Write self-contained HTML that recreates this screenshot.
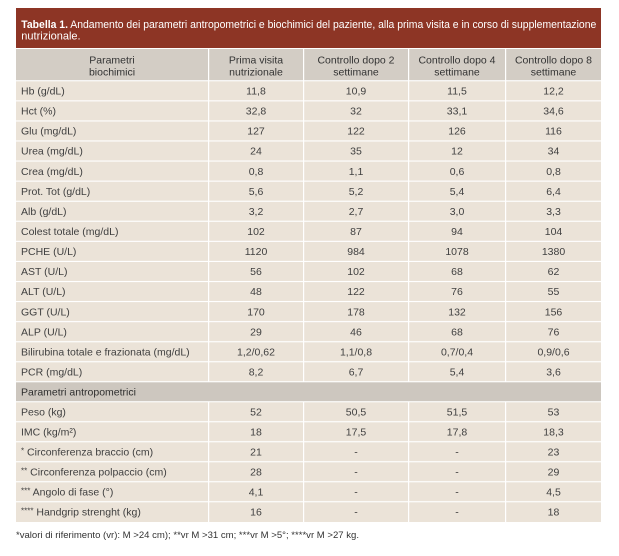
<!DOCTYPE html>
<html><head><meta charset="utf-8"><style>
html,body{margin:0;padding:0;background:#fff;}
svg{display:block;}
text{font-family:"Liberation Sans",Arial,sans-serif;}
.l{font-size:10.5px;fill:#404040;}
.v{font-size:10.5px;fill:#404040;text-anchor:middle;}
.h{font-size:10.5px;fill:#333;text-anchor:middle;}
</style></head><body>
<svg width="619" height="556" viewBox="0 0 619 556" xmlns="http://www.w3.org/2000/svg">
<rect x="0" y="0" width="619" height="556" fill="#fff"/>
<!-- title -->
<rect x="16" y="8" width="585" height="40" fill="#8d3525"/>
<text x="21.3" y="28" font-size="11" fill="#fff" textLength="575" lengthAdjust="spacingAndGlyphs"><tspan font-weight="bold">Tabella 1.</tspan> Andamento dei parametri antropometrici e biochimici del paziente, alla prima visita e in corso di supplementazione</text>
<text x="21.3" y="39.5" font-size="11" fill="#fff">nutrizionale.</text>
<!-- body bg -->
<rect x="16" y="49" width="585" height="473" fill="#ebe3d8"/>
<rect x="16" y="49" width="585" height="31.7" fill="#d3cdc5"/>
<rect x="16" y="381.7" width="585" height="20" fill="#cdc7bf"/>
<!-- horizontal lines -->
<g fill="#fff">
<rect x="16" y="80.2" width="585" height="1.1"/>
<rect x="16" y="100.3" width="585" height="1.1"/>
<rect x="16" y="120.4" width="585" height="1.1"/>
<rect x="16" y="140.4" width="585" height="1.1"/>
<rect x="16" y="160.5" width="585" height="1.1"/>
<rect x="16" y="180.6" width="585" height="1.1"/>
<rect x="16" y="200.7" width="585" height="1.1"/>
<rect x="16" y="220.7" width="585" height="1.1"/>
<rect x="16" y="240.8" width="585" height="1.1"/>
<rect x="16" y="260.9" width="585" height="1.1"/>
<rect x="16" y="281.0" width="585" height="1.1"/>
<rect x="16" y="301.0" width="585" height="1.1"/>
<rect x="16" y="321.1" width="585" height="1.1"/>
<rect x="16" y="341.2" width="585" height="1.1"/>
<rect x="16" y="361.2" width="585" height="1.1"/>
<rect x="16" y="381.2" width="585" height="1.1"/>
<rect x="16" y="401.2" width="585" height="1.1"/>
<rect x="16" y="421.2" width="585" height="1.1"/>
<rect x="16" y="441.2" width="585" height="1.1"/>
<rect x="16" y="461.2" width="585" height="1.1"/>
<rect x="16" y="481.2" width="585" height="1.1"/>
<rect x="16" y="501.2" width="585" height="1.1"/>
<!-- vertical lines -->
<rect x="208" y="49" width="1.2" height="332.7"/>
<rect x="303" y="49" width="1.2" height="332.7"/>
<rect x="408" y="49" width="1.2" height="332.7"/>
<rect x="505" y="49" width="1.2" height="332.7"/>
<rect x="208" y="401.7" width="1.2" height="120.3"/>
<rect x="303" y="401.7" width="1.2" height="120.3"/>
<rect x="408" y="401.7" width="1.2" height="120.3"/>
<rect x="505" y="401.7" width="1.2" height="120.3"/>
</g>
<!-- header -->
<text class="h" x="112" y="63.5">Parametri</text>
<text class="h" x="112" y="75.5">biochimici</text>
<text class="h" x="256" y="63.5">Prima visita</text>
<text class="h" x="256" y="75.5">nutrizionale</text>
<text class="h" x="356" y="63.5">Controllo dopo 2</text>
<text class="h" x="356" y="75.5">settimane</text>
<text class="h" x="457" y="63.5">Controllo dopo 4</text>
<text class="h" x="457" y="75.5">settimane</text>
<text class="h" x="553.5" y="63.5">Controllo dopo 8</text>
<text class="h" x="553.5" y="75.5">settimane</text>
<!-- rows -->
<g>
<text class="l" x="21" y="94.5">Hb (g/dL)</text><text class="v" x="256" y="94.5">11,8</text><text class="v" x="356" y="94.5">10,9</text><text class="v" x="457" y="94.5">11,5</text><text class="v" x="553.5" y="94.5">12,2</text>
<text class="l" x="21" y="114.6">Hct (%)</text><text class="v" x="256" y="114.6">32,8</text><text class="v" x="356" y="114.6">32</text><text class="v" x="457" y="114.6">33,1</text><text class="v" x="553.5" y="114.6">34,6</text>
<text class="l" x="21" y="134.6">Glu (mg/dL)</text><text class="v" x="256" y="134.6">127</text><text class="v" x="356" y="134.6">122</text><text class="v" x="457" y="134.6">126</text><text class="v" x="553.5" y="134.6">116</text>
<text class="l" x="21" y="154.7">Urea (mg/dL)</text><text class="v" x="256" y="154.7">24</text><text class="v" x="356" y="154.7">35</text><text class="v" x="457" y="154.7">12</text><text class="v" x="553.5" y="154.7">34</text>
<text class="l" x="21" y="174.8">Crea (mg/dL)</text><text class="v" x="256" y="174.8">0,8</text><text class="v" x="356" y="174.8">1,1</text><text class="v" x="457" y="174.8">0,6</text><text class="v" x="553.5" y="174.8">0,8</text>
<text class="l" x="21" y="194.9">Prot. Tot (g/dL)</text><text class="v" x="256" y="194.9">5,6</text><text class="v" x="356" y="194.9">5,2</text><text class="v" x="457" y="194.9">5,4</text><text class="v" x="553.5" y="194.9">6,4</text>
<text class="l" x="21" y="214.9">Alb (g/dL)</text><text class="v" x="256" y="214.9">3,2</text><text class="v" x="356" y="214.9">2,7</text><text class="v" x="457" y="214.9">3,0</text><text class="v" x="553.5" y="214.9">3,3</text>
<text class="l" x="21" y="235.0">Colest totale (mg/dL)</text><text class="v" x="256" y="235.0">102</text><text class="v" x="356" y="235.0">87</text><text class="v" x="457" y="235.0">94</text><text class="v" x="553.5" y="235.0">104</text>
<text class="l" x="21" y="255.1">PCHE (U/L)</text><text class="v" x="256" y="255.1">1120</text><text class="v" x="356" y="255.1">984</text><text class="v" x="457" y="255.1">1078</text><text class="v" x="553.5" y="255.1">1380</text>
<text class="l" x="21" y="275.1">AST (U/L)</text><text class="v" x="256" y="275.1">56</text><text class="v" x="356" y="275.1">102</text><text class="v" x="457" y="275.1">68</text><text class="v" x="553.5" y="275.1">62</text>
<text class="l" x="21" y="295.2">ALT (U/L)</text><text class="v" x="256" y="295.2">48</text><text class="v" x="356" y="295.2">122</text><text class="v" x="457" y="295.2">76</text><text class="v" x="553.5" y="295.2">55</text>
<text class="l" x="21" y="315.3">GGT (U/L)</text><text class="v" x="256" y="315.3">170</text><text class="v" x="356" y="315.3">178</text><text class="v" x="457" y="315.3">132</text><text class="v" x="553.5" y="315.3">156</text>
<text class="l" x="21" y="335.3">ALP (U/L)</text><text class="v" x="256" y="335.3">29</text><text class="v" x="356" y="335.3">46</text><text class="v" x="457" y="335.3">68</text><text class="v" x="553.5" y="335.3">76</text>
<text class="l" x="21" y="355.4">Bilirubina totale e frazionata (mg/dL)</text><text class="v" x="256" y="355.4">1,2/0,62</text><text class="v" x="356" y="355.4">1,1/0,8</text><text class="v" x="457" y="355.4">0,7/0,4</text><text class="v" x="553.5" y="355.4">0,9/0,6</text>
<text class="l" x="21" y="375.5">PCR (mg/dL)</text><text class="v" x="256" y="375.5">8,2</text><text class="v" x="356" y="375.5">6,7</text><text class="v" x="457" y="375.5">5,4</text><text class="v" x="553.5" y="375.5">3,6</text>
<text class="l" x="21" y="395.4" style="fill:#2e2e2e">Parametri antropometrici</text>
<text class="l" x="21" y="415.5">Peso (kg)</text><text class="v" x="256" y="415.5">52</text><text class="v" x="356" y="415.5">50,5</text><text class="v" x="457" y="415.5">51,5</text><text class="v" x="553.5" y="415.5">53</text>
<text class="l" x="21" y="435.5">IMC (kg/m²)</text><text class="v" x="256" y="435.5">18</text><text class="v" x="356" y="435.5">17,5</text><text class="v" x="457" y="435.5">17,8</text><text class="v" x="553.5" y="435.5">18,3</text>
<text class="l" x="21" y="455.5"><tspan font-size="8" dy="-2">*</tspan><tspan dy="2"> Circonferenza braccio (cm)</tspan></text><text class="v" x="256" y="455.5">21</text><text class="v" x="356" y="455.5">-</text><text class="v" x="457" y="455.5">-</text><text class="v" x="553.5" y="455.5">23</text>
<text class="l" x="21" y="475.5"><tspan font-size="8" dy="-2">**</tspan><tspan dy="2"> Circonferenza polpaccio (cm)</tspan></text><text class="v" x="256" y="475.5">28</text><text class="v" x="356" y="475.5">-</text><text class="v" x="457" y="475.5">-</text><text class="v" x="553.5" y="475.5">29</text>
<text class="l" x="21" y="495.5"><tspan font-size="8" dy="-2">***</tspan><tspan dy="2"> Angolo di fase (°)</tspan></text><text class="v" x="256" y="495.5">4,1</text><text class="v" x="356" y="495.5">-</text><text class="v" x="457" y="495.5">-</text><text class="v" x="553.5" y="495.5">4,5</text>
<text class="l" x="21" y="515.5"><tspan font-size="8" dy="-2">****</tspan><tspan dy="2"> Handgrip strenght (kg)</tspan></text><text class="v" x="256" y="515.5">16</text><text class="v" x="356" y="515.5">-</text><text class="v" x="457" y="515.5">-</text><text class="v" x="553.5" y="515.5">18</text>
</g>
<!-- footnote -->
<text x="16" y="538" font-size="8.8" fill="#333" textLength="343" lengthAdjust="spacingAndGlyphs">*valori di riferimento (vr): M &gt;24 cm); **vr M &gt;31 cm; ***vr  M &gt;5°; ****vr M &gt;27 kg.</text>
</svg>
</body></html>
